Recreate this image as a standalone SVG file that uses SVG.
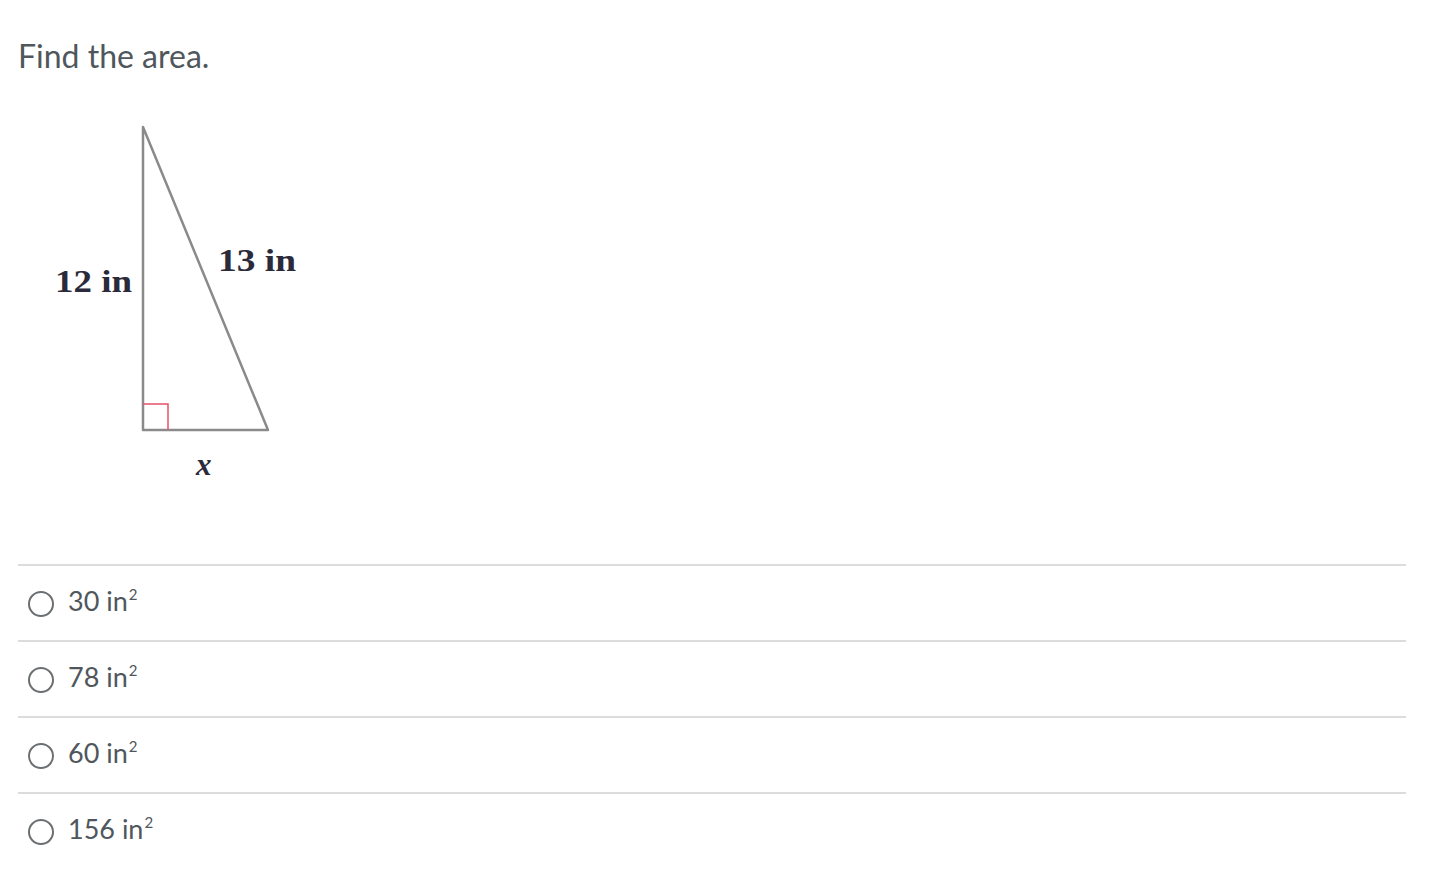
<svg xmlns="http://www.w3.org/2000/svg" width="1430" height="878" viewBox="0 0 1430 878">
<style>
.t{font-family:Lato,"Open Sans",sans-serif;fill:#4f575c}
.opt{font-size:27px}
.sup{font-size:15px}
.lbl{font-family:"Liberation Serif","DejaVu Serif",serif;font-size:31px;font-weight:bold;fill:#2a2a3a}
.sep{stroke:#dcdcdc;stroke-width:2}
.rad{fill:#fff;stroke:#6b6f72;stroke-width:2}
</style>
<rect width="1430" height="878" fill="#fff"/>
<text class="t" x="18" y="68" font-size="32">Find the area.</text>
<g id="triangle">
<path d="M143,127 L143,430 L268,430 Z" fill="none" stroke="#8a8a8a" stroke-width="2.5" stroke-linejoin="round"/>
<path d="M143,404 L168,404 L168,430" fill="none" stroke="#e8506a" stroke-width="1.5"/>
<text class="lbl" x="55" y="292" textLength="77" lengthAdjust="spacingAndGlyphs">12 in</text>
<text class="lbl" x="218" y="271" textLength="78" lengthAdjust="spacingAndGlyphs">13 in</text>
<text class="lbl" x="196" y="475" font-style="italic">x</text>
</g>
<g id="separators">
<line class="sep" x1="18" y1="565" x2="1406" y2="565"/>
<line class="sep" x1="18" y1="641" x2="1406" y2="641"/>
<line class="sep" x1="18" y1="717" x2="1406" y2="717"/>
<line class="sep" x1="18" y1="793" x2="1406" y2="793"/>
</g>
<g id="opt1"><circle class="rad" cx="41" cy="604" r="12"/><text class="t opt" x="68" y="611">30 in<tspan class="sup" dx="1" dy="-11">2</tspan></text></g>
<g id="opt2"><circle class="rad" cx="41" cy="680" r="12"/><text class="t opt" x="68" y="687">78 in<tspan class="sup" dx="1" dy="-11">2</tspan></text></g>
<g id="opt3"><circle class="rad" cx="41" cy="756" r="12"/><text class="t opt" x="68" y="763">60 in<tspan class="sup" dx="1" dy="-11">2</tspan></text></g>
<g id="opt4"><circle class="rad" cx="41" cy="832" r="12"/><text class="t opt" x="68" y="839">156 in<tspan class="sup" dx="1" dy="-11">2</tspan></text></g>
</svg>
